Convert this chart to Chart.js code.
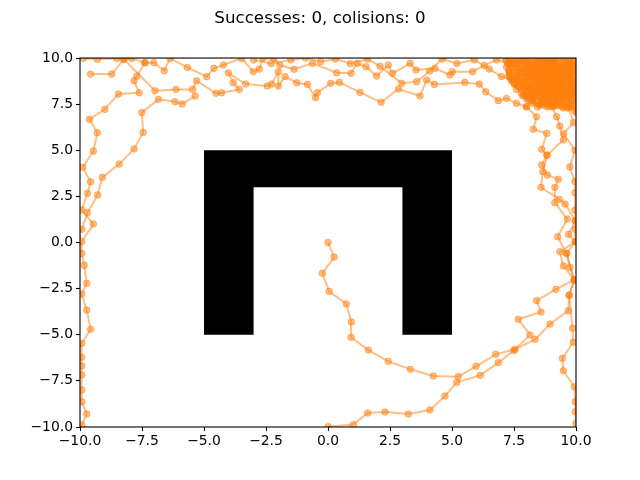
<!DOCTYPE html>
<html>
<head>
<meta charset="utf-8">
<script src="https://cdn.jsdelivr.net/npm/chart.js@4/dist/chart.umd.min.js"></script>
<style>
  html, body { margin: 0; padding: 0; background: #fff; }
</style>
</head>
<body>
<canvas id="trajChart" width="640" height="480"></canvas>
<script>
// Axis ticks (both axes use the same range)
const tickValues = [-10, -7.5, -5, -2.5, 0, 2.5, 5, 7.5, 10];

// U-shaped obstacle outline (data coordinates)
const obstacleX = [-5, -5, 5, 5, 3, 3, -3, -3];
const obstacleY = [-5, 5, 5, -5, -5, 3, 3, -5];

// Trajectories, [x, y] per step
const trajStart = [[0, 0], [0.25, -0.79], [-0.23, -1.67], [0.05, -2.65], [0.74, -3.33], [0.94, -4.31], [0.93, -5.14],
    [1.63, -5.83], [2.43, -6.44], [3.32, -6.87], [4.25, -7.24], [5.25, -7.27], [5.97, -6.71], [6.76, -6.06],
    [7.54, -5.79], [8.35, -5.25], [8.95, -4.42], [9.69, -3.7], [9.72, -2.86], [9.93, -2.03], [9.62, -0.59],
    [9.26, 0.31], [9.65, 1.27], [9.15, 2.16], [9.15, 2.99], [9.29, 3.43], [8.84, 3.66], [8.62, 4.2], [8.82, 4.74],
    [8.62, 5.05], [8.82, 5.92], [8.28, 6.14], [8.41, 6.82], [8.0, 7.36], [8.3, 7.9], [8.7, 8.4]];

const trajBottom = [[0.01, -9.98], [1.02, -9.87], [1.6, -9.24], [2.3, -9.19], [3.24, -9.3], [4.11, -9.08], [4.72, -8.32],
    [5.19, -7.58], [6.14, -7.2], [6.87, -6.51], [7.5, -5.85], [8.15, -5.01], [7.67, -4.16], [8.59, -3.77], [8.41, -3.15],
    [9.19, -2.54], [9.93, -2.03], [9.49, -1.27], [9.35, -0.5], [9.97, 0.04], [9.7, 0.44], [9.97, 1.18], [9.56, 2.09],
    [9.33, 2.34], [8.59, 2.99], [8.66, 3.84], [8.84, 4.74], [9.49, 5.56], [9.35, 6.31], [9.22, 6.82], [9.0, 7.4], [9.2, 8.0]];

const trajRightEdge = [[9.7, 7.3], [9.9, 6.5], [9.5, 5.9], [9.96, 5.0], [9.75, 4.1], [9.96, 3.3], [9.96, 2.7], [9.96, 1.76],
    [9.97, 1.18], [9.97, 0.72], [9.97, 0.04], [9.62, -0.59], [9.76, -1.34], [9.93, -2.03], [9.73, -2.86], [9.86, -4.65],
    [9.89, -5.41], [9.45, -6.28], [9.49, -6.95], [9.93, -7.82], [9.97, -8.63], [9.97, -9.17], [10.0, -9.8], [10.1, -10.3]];

const trajLeftDown = [[-7.38, 9.75], [-7.71, 9.02], [-7.82, 8.77], [-7.61, 8.12], [-8.45, 8.05], [-9.0, 7.22], [-9.62, 6.68],
    [-9.3, 5.95], [-9.46, 4.96], [-9.89, 4.08], [-9.57, 3.29], [-9.7, 2.67], [-9.93, 1.76], [-9.46, 1.0], [-9.93, 0.04],
    [-9.93, -0.59], [-9.83, -1.24], [-9.73, -2.21], [-9.93, -2.79], [-9.73, -3.66], [-9.57, -4.7], [-9.93, -5.46],
    [-9.93, -6.22], [-9.93, -6.69], [-9.93, -7.18], [-9.93, -7.99], [-9.93, -8.63], [-9.73, -9.3], [-9.93, -9.89], [-10.1, -10.4]];

const trajLeftInner = [[-5.36, 7.94], [-5.88, 7.51], [-6.17, 7.63], [-6.84, 7.76], [-7.51, 7.04], [-7.45, 5.97], [-7.82, 5.07],
    [-8.42, 4.25], [-9.1, 3.53], [-9.29, 2.58], [-9.7, 1.62], [-9.93, 0.72], [-10.1, 0.3]];

const trajTopHigh = [[-9.87, 9.98], [-9.3, 9.93], [-8.52, 9.98], [-8.23, 9.93], [-7.92, 9.98], [-7.38, 9.75], [-7.02, 9.75],
    [-6.6, 9.31], [-6.37, 9.98], [-5.67, 9.49], [-4.89, 8.99], [-4.6, 9.44], [-4.22, 9.62], [-3.48, 9.98], [-3.01, 9.26],
    [-2.77, 9.4], [-2.63, 9.98], [-2.18, 9.98], [-1.94, 9.62], [-1.37, 9.39], [-0.63, 9.71], [0.35, 9.2], [0.93, 9.17],
    [1.18, 9.71], [1.53, 9.53], [1.96, 9.02], [2.43, 9.62], [2.6, 9.17], [3.31, 9.71], [3.55, 9.35], [4.31, 9.44],
    [4.92, 9.08], [5.01, 9.26], [5.83, 9.26], [6.3, 9.6], [6.8, 9.9], [7.3, 9.7]];

const trajTopLow = [[-9.57, 9.13], [-8.72, 9.13], [-8.23, 9.93], [-6.98, 8.23], [-6.13, 8.3], [-5.46, 8.3], [-5.3, 8.77],
    [-4.52, 8.09], [-4.29, 8.12], [-3.58, 8.3], [-3.82, 8.66], [-4.02, 9.2], [-3.32, 8.59], [-2.45, 8.48], [-2.27, 8.59],
    [-2.0, 9.26], [-2.0, 8.48], [-1.73, 8.99], [-1.26, 8.66], [-0.83, 8.57], [-0.5, 7.85], [-0.43, 8.12], [0.11, 8.63],
    [0.46, 8.68], [1.29, 8.14], [2.14, 7.6], [2.84, 8.32], [3.71, 7.94], [3.98, 8.81], [4.29, 8.57], [5.52, 8.68],
    [6.1, 8.59], [6.36, 8.17], [6.87, 7.69], [7.2, 7.81], [7.6, 7.54], [8.0, 7.36]];

const trajTopMid = [[-3.0, 9.9], [-2.3, 9.7], [-1.5, 9.9], [-0.9, 10.0], [-0.3, 9.8], [0.3, 9.95], [0.9, 9.7], [1.6, 9.95],
    [2.1, 9.55], [2.97, 8.63], [3.58, 8.72], [4.1, 9.3], [4.6, 9.95], [5.2, 9.7], [5.9, 9.9], [6.5, 9.4], [7.0, 9.0], [7.4, 8.8]];

// Agents wandering around the goal corner
const trajGoal = [[8.6, 8.7], [8.9, 8.4], [9.2, 8.8], [8.8, 9.1], [8.4, 8.9], [8.1, 9.3], [8.5, 9.6], [8.9, 9.4], [9.3, 9.7],
    [9.6, 9.3], [9.4, 8.9], [9.8, 8.6], [9.5, 8.2], [9.1, 8.0], [8.7, 8.2], [8.3, 8.4], [7.9, 8.7], [7.6, 9.0], [7.8, 9.4],
    [7.4, 9.7], [7.7, 9.9], [8.1, 9.8], [8.4, 10.0], [8.8, 9.8], [9.2, 10.0], [9.6, 9.9], [9.9, 9.6], [9.7, 9.1], [9.9, 8.8],
    [9.6, 8.5], [9.9, 8.1], [9.7, 7.7], [9.3, 7.6], [9.0, 7.9], [8.6, 7.7], [8.3, 7.9], [8.0, 8.2], [8.2, 8.6], [8.5, 8.3],
    [8.8, 8.6], [9.1, 8.4], [9.4, 8.6], [9.2, 9.2], [8.9, 9.0], [8.6, 9.2], [8.3, 9.0], [8.0, 8.9], [7.7, 8.5], [7.5, 8.8],
    [7.3, 9.3], [7.6, 9.5], [8.0, 9.6], [8.3, 9.4], [8.7, 9.6], [9.0, 9.7], [9.4, 9.5], [9.7, 9.7], [10.0, 9.4], [9.8, 9.0],
    [10.0, 8.5], [9.8, 8.3], [9.5, 7.9], [9.2, 7.4], [8.9, 7.6], [8.5, 7.5], [8.2, 7.7], [7.9, 8.0], [8.1, 8.4], [8.4, 8.7],
    [8.7, 8.9], [9.0, 9.2], [9.3, 9.0], [9.5, 9.4], [9.2, 9.6], [8.9, 9.9], [8.6, 9.9], [8.2, 9.6], [7.9, 9.2], [8.2, 9.1],
    [8.5, 9.4], [8.8, 9.3], [9.1, 9.1], [9.4, 8.3], [9.7, 8.0], [10.0, 7.8], [9.8, 7.4], [9.5, 7.3], [9.1, 7.7], [8.8, 8.0],
    [8.4, 8.1], [8.1, 8.0], [7.8, 8.3], [7.5, 8.6], [7.3, 9.0], [7.2, 9.5], [7.5, 9.9], [7.9, 10.0], [8.3, 9.8], [8.6, 9.5],
    [9.0, 9.5], [9.3, 9.3], [9.6, 9.1], [9.9, 9.2], [9.7, 8.8], [9.3, 8.6], [9.0, 8.7], [8.7, 8.5], [8.4, 8.6], [8.6, 8.9],
    [8.9, 8.8], [9.2, 8.6], [9.0, 8.3], [8.7, 8.0], [9.0, 8.1], [9.3, 8.2], [9.6, 8.6], [9.9, 9.9], [9.5, 10.0], [9.0, 9.9],
    [8.6, 10.0]];

const trajGoal2 = [[7.2, 9.85], [7.5, 9.8], [7.8, 9.9], [8.1, 9.85], [8.4, 9.75], [8.7, 9.9], [9.0, 9.8], [9.3, 9.85],
    [9.6, 9.75], [9.9, 9.85], [9.95, 9.55], [9.65, 9.6], [9.35, 9.5], [9.05, 9.6], [8.75, 9.55], [8.45, 9.65], [8.15, 9.5],
    [7.85, 9.6], [7.55, 9.55], [7.25, 9.65], [7.3, 9.3], [7.6, 9.35], [7.9, 9.4], [8.2, 9.3], [8.5, 9.35], [8.8, 9.25],
    [9.1, 9.35], [9.4, 9.3], [9.7, 9.4], [9.95, 9.3], [9.9, 9.05], [9.6, 9.1], [9.3, 9.0], [9.0, 9.1], [8.7, 9.05],
    [8.4, 9.15], [8.1, 9.0], [7.8, 9.1], [7.5, 9.05], [7.3, 9.15], [7.4, 8.8], [7.7, 8.85], [8.0, 8.75], [8.3, 8.9],
    [8.6, 8.8], [8.9, 8.85], [9.2, 8.75], [9.5, 8.9], [9.8, 8.8], [9.95, 8.55], [9.65, 8.6], [9.35, 8.5], [9.05, 8.65],
    [8.75, 8.55], [8.45, 8.6], [8.15, 8.5], [7.85, 8.65], [7.55, 8.55], [7.6, 8.3], [7.9, 8.35], [8.2, 8.25], [8.5, 8.4],
    [8.8, 8.3], [9.1, 8.35], [9.4, 8.25], [9.7, 8.4], [9.95, 8.3], [9.9, 8.05], [9.6, 8.1], [9.3, 8.0], [9.0, 8.15],
    [8.7, 8.05], [8.4, 8.1], [8.1, 8.0], [7.8, 8.1], [8.0, 7.8], [8.3, 7.85], [8.6, 7.75], [8.9, 7.9], [9.2, 7.8],
    [9.5, 7.85], [9.8, 7.75], [10.0, 7.6], [9.75, 7.5], [9.45, 7.55], [9.15, 7.45], [8.85, 7.55], [8.55, 7.45], [8.25, 7.55]];

const trajGoal3 = [[7.35, 9.95], [7.4, 9.45], [7.35, 8.95], [7.65, 8.7], [7.7, 9.2], [7.65, 9.7], [7.95, 9.95], [8.0, 9.45],
    [7.95, 8.95], [8.0, 8.45], [7.95, 7.95], [8.25, 7.7], [8.3, 8.2], [8.25, 8.7], [8.3, 9.2], [8.25, 9.7], [8.55, 9.95],
    [8.6, 9.45], [8.55, 8.95], [8.6, 8.45], [8.55, 7.95], [8.6, 7.6], [8.85, 7.35], [8.9, 7.75], [8.85, 8.25], [8.9, 8.75],
    [8.85, 9.25], [8.9, 9.75], [9.15, 9.95], [9.2, 9.45], [9.15, 8.95], [9.2, 8.45], [9.15, 7.95], [9.2, 7.55], [9.45, 7.35],
    [9.5, 7.75], [9.45, 8.25], [9.5, 8.75], [9.45, 9.25], [9.5, 9.75], [9.75, 9.95], [9.8, 9.45], [9.75, 8.95], [9.8, 8.45],
    [9.75, 7.95], [9.8, 7.45], [9.95, 7.15], [10.0, 7.6], [10.0, 8.2], [10.0, 8.8], [10.0, 9.6]];

const trajGoal4 = [[7.15, 9.95], [7.45, 9.7], [7.75, 9.72], [8.05, 9.68], [8.35, 9.57], [8.65, 9.72], [8.95, 9.63], [9.25, 9.58],
    [9.55, 9.62], [9.85, 9.48], [9.6, 9.22], [9.3, 9.2], [9.0, 9.25], [8.7, 9.18], [8.4, 9.27], [8.1, 9.15], [7.8, 9.25],
    [7.5, 9.2], [7.35, 8.98], [7.65, 8.97], [7.95, 9.05], [8.25, 8.98], [8.55, 9.02], [8.85, 8.95], [9.15, 9.0], [9.45, 8.98],
    [9.75, 9.05], [9.9, 8.7], [9.55, 8.72], [9.25, 8.65], [8.95, 8.72], [8.65, 8.68], [8.35, 8.75], [8.05, 8.62], [7.75, 8.72],
    [7.5, 8.68], [7.7, 8.45], [8.0, 8.5], [8.3, 8.42], [8.6, 8.55], [8.9, 8.45], [9.2, 8.5], [9.5, 8.42], [9.8, 8.55],
    [9.85, 8.2], [9.55, 8.25], [9.25, 8.18], [8.95, 8.28], [8.65, 8.2], [8.35, 8.25], [8.05, 8.15], [7.85, 7.95], [8.15, 7.92],
    [8.45, 7.98], [8.75, 7.88], [9.05, 7.95], [9.35, 7.9], [9.65, 7.98], [9.9, 7.88], [9.6, 7.62], [9.3, 7.68], [9.0, 7.62],
    [8.7, 7.68], [8.4, 7.62], [8.1, 7.7], [8.45, 7.35], [8.75, 7.42], [9.05, 7.35], [9.35, 7.45], [9.65, 7.3], [9.9, 7.35],
    [10.0, 7.05]];

const trajectories = [trajStart, trajBottom, trajRightEdge, trajLeftDown, trajLeftInner,
    trajTopHigh, trajTopLow, trajTopMid, trajGoal, trajGoal2, trajGoal3, trajGoal4];

const ORANGE = "rgba(255, 127, 14, 0.5)";

// Format like matplotlib (one decimal, unicode minus)
function fmtTick(v) {
    return v.toFixed(1).replace("-", "\u2212");
}

// Black obstacle + full frame around the axes
const arenaPlugin = {
    id: "arena",
    beforeDatasetsDraw(chart) {
        const { ctx, scales: { x, y } } = chart;
        ctx.save();
        ctx.fillStyle = "#000";
        ctx.beginPath();
        obstacleX.forEach((ox, i) => {
            const px = x.getPixelForValue(ox);
            const py = y.getPixelForValue(obstacleY[i]);
            if (i === 0) ctx.moveTo(px, py); else ctx.lineTo(px, py);
        });
        ctx.closePath();
        ctx.fill();
        ctx.restore();
    },
    afterDraw(chart) {
        const { ctx, chartArea: a } = chart;
        ctx.save();
        ctx.strokeStyle = "#000";
        ctx.lineWidth = 1.1;
        ctx.strokeRect(a.left, a.top, a.right - a.left, a.bottom - a.top);
        ctx.restore();
    }
};

const axisFont = { family: "DejaVu Sans", size: 13.9 };

new Chart(document.getElementById("trajChart").getContext("2d"), {
    type: "scatter",
    data: {
        datasets: trajectories.map(t => ({
            data: t.map(p => ({ x: p[0], y: p[1] })),
            showLine: true,
            borderColor: ORANGE,
            borderWidth: 2,
            backgroundColor: ORANGE,
            pointBackgroundColor: ORANGE,
            pointBorderColor: ORANGE,
            pointBorderWidth: 1,
            pointRadius: 3.3,
            tension: 0,
            clip: 0
        }))
    },
    options: {
        responsive: false,
        animation: false,
        devicePixelRatio: 1,
        layout: { padding: 0 },
        plugins: {
            legend: { display: false },
            tooltip: { enabled: false },
            title: {
                display: true,
                text: "Successes: 0, colisions: 0",
                color: "#000",
                font: { family: "DejaVu Sans", size: 16.7, weight: "normal" },
                padding: { top: 9, bottom: 29 }
            }
        },
        scales: {
            x: {
                type: "linear",
                min: -10, max: 10,
                afterBuildTicks: s => { s.ticks = tickValues.map(v => ({ value: v })); },
                afterFit: s => { s.height = 53; },
                grid: { drawOnChartArea: false, drawTicks: true, tickLength: 4, tickColor: "#000", tickWidth: 1.1 },
                border: { display: false },
                ticks: { color: "#000", font: axisFont, padding: 2, maxRotation: 0, autoSkip: false, callback: fmtTick }
            },
            y: {
                type: "linear",
                min: -10, max: 10,
                afterBuildTicks: s => { s.ticks = tickValues.map(v => ({ value: v })); },
                afterFit: s => { s.width = 80; },
                grid: { drawOnChartArea: false, drawTicks: true, tickLength: 4, tickColor: "#000", tickWidth: 1.1 },
                border: { display: false },
                ticks: { color: "#000", font: axisFont, padding: 3, autoSkip: false, callback: fmtTick }
            },
            // empty right-hand spacer so the plot ends at the same place as the reference
            yRight: {
                type: "linear",
                position: "right",
                min: -10, max: 10,
                afterFit: s => { s.width = 64; },
                grid: { display: false },
                border: { display: false },
                ticks: { display: false }
            }
        }
    },
    plugins: [arenaPlugin]
});
</script>
</body>
</html>
